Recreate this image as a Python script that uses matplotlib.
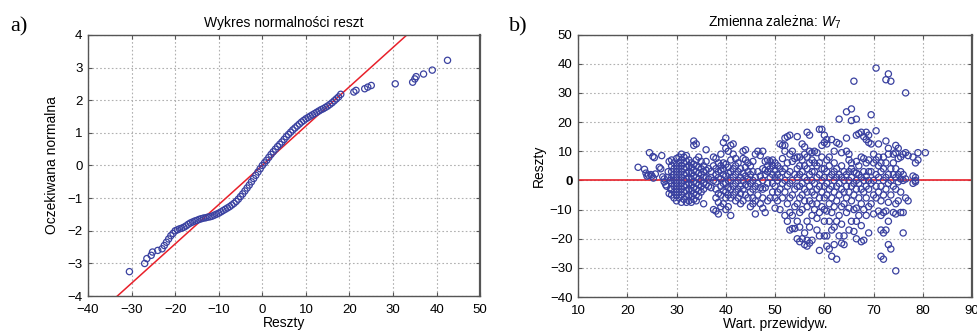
import numpy as np
import matplotlib
matplotlib.use('Agg')
from matplotlib import pyplot as plt

plt.rcParams['font.family'] = ['Liberation Sans', 'DejaVu Sans']
plt.rcParams['mathtext.fontset'] = 'custom'
plt.rcParams['mathtext.it'] = 'Liberation Sans:italic'
plt.rcParams['mathtext.rm'] = 'Liberation Sans'

# a) normal probability plot: residual vs expected normal value
res_a = [-30.5, -27, -26.5, -25.5, -25.2, -24, -23, -22.5, -22, -21.5, -21, -20.5,
         -20, -19.5, -19, -18.5, -18, -17.5, -17, -16.5, -16, -15.5, -15, -14.5,
         -14, -13.5, -13, -12.5, -12, -11.5, -11, -10.5, -10, -9.5, -9, -8.5, -8,
         -7.5, -7, -6.5, -6, -5.5, -5, -4.5, -4, -3.5, -3, -2.5, -2, -1.5, -1, -0.5,
         0, 0.5, 1, 1.5, 2, 2.5, 3, 3.5, 4, 4.5, 5, 5.5, 6, 6.5, 7, 7.5, 8, 8.5, 9,
         9.5, 10, 10.5, 11, 11.5, 12, 12.5, 13, 13.5, 14, 14.5, 15, 15.5, 16, 16.5,
         17, 17.5, 18,
         21, 21.5, 23.5, 24.2, 25, 30.5, 34.5, 35, 35.3, 37, 39, 42.5]
exp_a = [-3.25, -3.0, -2.85, -2.75, -2.65, -2.6, -2.55, -2.45, -2.35, -2.25, -2.15, -2.08,
         -2.0, -1.97, -1.94, -1.92, -1.89, -1.85, -1.8, -1.76, -1.73, -1.70, -1.68, -1.65,
         -1.63, -1.61, -1.60, -1.58, -1.57, -1.55, -1.52, -1.49, -1.46, -1.42, -1.38, -1.34, -1.30,
         -1.26, -1.21, -1.16, -1.10, -1.03, -0.95, -0.87, -0.78, -0.69, -0.60, -0.50, -0.40, -0.30, -0.20, -0.10,
         0.0, 0.08, 0.16, 0.25, 0.34, 0.42, 0.50, 0.58, 0.65, 0.72, 0.80, 0.88, 0.95, 1.02, 1.09,
         1.15, 1.21, 1.27, 1.33, 1.38, 1.43, 1.47, 1.51, 1.55, 1.59, 1.63, 1.67, 1.71, 1.74, 1.78,
         1.82, 1.87, 1.92, 1.98, 2.04, 2.10, 2.18,
         2.25, 2.3, 2.35, 2.4, 2.45, 2.5, 2.55, 2.65, 2.72, 2.8, 2.92, 3.22]
line_x = [-33.3, 33.2]
line_y = [-4, 4]

# b) residuals vs predicted values (columns: predicted -> list of residuals)
cols_b = {
    22.2: [4.5], 23.5: [3.8], 23.8: [2.5], 24: [1.5], 24.3: [1.8], 24.5: [9.5],
    24.8: [2], 25: [1.5], 25.2: [8.2], 25.3: [0.8], 25.5: [7.8], 25.7: [2.2],
    26.5: [4.5], 26.8: [4], 27: [8.5], 27.2: [1.2], 27.5: [-0.5, 0.5], 27.8: [-1.5],
    28: [-2], 28.2: [1], 28.3: [3], 28.5: [6.5, -4.5], 28.7: [0], 28.8: [-3],
    29: [-5, -3, -1, 1, 3, 5, 7],
    29.5: [-6, -4, -2, 0, 2, 4, 6],
    30: [-7, -5, -3, -1, 1, 3, 5, 7.5],
    30.5: [-6, -4, -2, 0, 2, 4, 6, 8],
    31: [-7.5, -5, -3, -1, 1, 3, 5, 7, 9],
    31.5: [-6.5, -4, -2, 0, 2, 4, 6, 8],
    32: [-7.5, -5.5, -3.5, -1.5, 0.5, 2.5, 4.5, 6.5, 8.5],
    32.5: [-7, -5, -3, -1, 1, 3, 5, 7],
    33: [-7.5, -5.5, -3.5, -1.5, 0.5, 2.5, 4.5, 6],
    33.5: [-6.5, -4.5, -2.5, -0.5, 1.5, 3.5, 5.5, 12, 13.5],
    34: [-7, -5, -3, -1, 1, 3, 5, 7, 12.5],
    34.5: [-5.5, -3.5, -1.5, 0.5, 2.5, 4.5, 8],
    35: [-4, -2, 0, 2, 4, 6.5],
    35.5: [-8, -3, -1, 1, 3, 5],
    36: [-1.5, 1, 3.5, 6.5, 10.5],
    36.5: [-2, 0.5, 4],
    37: [-2.5, 1, 3],
    37.5: [-10, 0, 5, 8],
    38: [-10.5, -6, -3, -0.5, 2, 4, 7.5],
    38.5: [-11.5, -7.5, -4.5, 1, 3, 6],
    39: [-9, -5, -2, 0.5, 3.5, 5, 9],
    39.5: [-8, -3.5, -1, 2, 4, 6, 13],
    40: [-10, -6, -4, -1, 1.5, 5.5, 11, 14.5],
    40.5: [-9, -5, -2.5, 0, 2.5, 4.5, 10],
    41: [-12, -6, -3, 0, 3, 7, 12],
    41.5: [-5, -2, 1, 4, 9, 12.5],
    42: [-7, -4, -1, 2, 5, 7.5],
    42.5: [-6, -3, 0, 3, 6],
    43: [-8, -4.5, -2, 1, 4],
    43.5: [-7, -3, 0, 2.5, 7.5, 10],
    44: [-5, -1.5, 1.5, 4.5, 7, 10.5],
    44.5: [-6, -2, 0.5, 3, 6],
    45: [-9, -4, -1, 2, 5],
    45.5: [-8, -6, -3, 0, 3, 6.5],
    46: [-11.5, -7, -2, 1, 9],
    46.5: [-5, -1, 3, 10],
    47: [-8, -2.5, 1.5, 8.5],
    47.5: [-9.5, -6, -3, 0, 4, 10],
    48: [-11, -2.5, 2, 3.5, 6.5],
    48.5: [-7, -1, 3, 5, 7],
    49: [-6, 1, 4, 6.5],
    49.5: [-4, -1, 2, 5, 7],
    50: [-9.5, -6, -2, 1, 3.5, 6],
    50.5: [-7, -4, 0, 2, 5],
    51: [-10, -3, 1, 4, 12.5],
    51.5: [-6, -1, 3, 7.5, 12],
    52: [-12, -4, 0, 4, 10, 12, 14.5],
    52.5: [-14, -8, -2, 2, 6, 15],
    53: [-17, -11, -6, -1, 3, 9, 15.5],
    53.5: [-16.5, -12, -5, 0, 6.5, 10],
    54: [-16.5, -9, -3, 2, 7.5],
    54.5: [-20, -14, -8, -2, 1, 4, 8, 15],
    55: [-21, -16, -11, -6, -2, 2, 5, 8],
    55.5: [-20, -10, -5, -1, 3, 7, 12.5],
    56: [-22, -18, -7, -3, 1, 5, 9, 11.5],
    56.5: [-22.5, -20.5, -14, -9, -4, 0, 4, 8, 16.5],
    57: [-21.5, -16, -7, -2, 2, 6, 10, 15.5],
    57.5: [-20.5, -12, -8, -4, 0, 3, 7, 9.5],
    58: [-10, -5, -1, 3, 6, 10],
    58.5: [-17, -13, -8, -3, 1, 5, 9.5],
    59: [-24, -19, -11, -6, -2, 2, 6, 17.5],
    59.5: [-9, -4, 0, 4, 8, 12, 17.5],
    60: [-19, -14, -10, -6, -2, 1, 4, 13, 15.5],
    60.5: [-22.5, -19, -10.5, -5, -1, 3, 7, 12.5, 14],
    61: [-23.5, -14, -8, -3, 1, 5, 8],
    61.5: [-26, -17, -11, -6, -2, 2, 14],
    62: [-22, -16, -9, -4, 0, 3, 6, 10],
    62.5: [-27, -14, -7, -2, 1, 4, 13],
    63: [-19, -12, -5, -1, 2, 12.5, 21],
    63.5: [-21.5, -15, -9, -3, 1, 5, 9.5],
    64: [-22, -19, -8, -4, 0, 3],
    64.5: [-11, -6, -2, 2, 10, 14.5, 23.5],
    65: [-17, -9.5, -4, 0, 3, 7, 9],
    65.5: [-14, -7, -2, 1, 4, 6, 20.5, 24.5],
    66: [-17.5, -10, -5, -1, 3, 34],
    66.5: [-20, -14, -9.5, -3, 0, 2.5, 6.5, 15.5, 21],
    67: [-12, -6, -1, 2, 5, 16],
    67.5: [-21, -15.5, -8, -3, 1, 8, 16.5],
    68: [-20.5, -10, -4, 0, 3, 7.5, 15],
    68.5: [-12, -6, -2, 1.5, 6, 14, 16.5],
    69: [-18, -9, -3, 0, 3, 7, 13, 15.5],
    69.5: [-8, -1, 3, 12.5, 22.5],
    70: [-11.5, -5, 0, 6, 9],
    70.5: [-6, -2, 2, 7, 17, 38.5],
    71: [-10.5, -4, 1, 5, 8, 12.5],
    71.5: [-26, -17, -12, -7, -2, 3, 6],
    72: [-27, -18, -11, -5, 0, 4, 8],
    72.5: [-17, -10.5, -3, 1, 6, 13.5, 34.5],
    73: [-22, -14, -7.5, -1, 2, 9, 11, 36.5],
    73.5: [-23.5, -5, 0, 4, 34],
    74: [-11, -2, 2, 6, 9],
    74.5: [-31, -11.5, -8, -3, 1, 4, 9.5, 12],
    75: [-7, -0.5, 2, 7.5, 11],
    75.5: [-11, -4, 0.5, 3, 8],
    76: [-18, -11, 0, 2, 9],
    76.5: [-6, 0.5, 9.5, 30],
    77: [-7, 8.5],
    78: [-1, 1.5, 8],
    78.5: [-0.5, 0, 1, 6],
    79: [7, 9.5],
    80.5: [9.5],
}
pred_b = [x for x, ys in cols_b.items() for _ in ys]
res_b = [y for ys in cols_b.values() for y in ys]

blue = '#3a41a0'
red = '#e8202a'

fig = plt.figure(figsize=(9.78, 3.35), dpi=100)
ax1 = fig.add_axes([0.090, 0.116, 0.401, 0.780])
ax2 = fig.add_axes([0.591, 0.113, 0.403, 0.784])

for ax in (ax1, ax2):
    ax.grid(True, linestyle=(0, (1.5, 2)), color='#b0b0b0', linewidth=0.8)
    ax.set_axisbelow(True)
    ax.tick_params(direction='in', top=True, right=True, length=3, labelsize=9.5,
                   color='#555555')
    ax.tick_params(axis='x', pad=6)
    ax.tick_params(axis='y', pad=4)
    for s in ax.spines.values():
        s.set_color('#555555')
        s.set_linewidth(1.0)
    ax.spines['right'].set_linewidth(1.6)

# a)
ax1.plot(line_x, line_y, color=red, lw=1.1, zorder=2)
ax1.scatter(res_a, exp_a, s=20, facecolors='none', edgecolors=blue, linewidths=0.9, zorder=3)
ax1.set_xlim(-40, 50)
ax1.set_ylim(-4, 4)
ax1.set_xticks(range(-40, 51, 10))
ax1.set_yticks(range(-4, 5, 1))
ax1.set_title('Wykres normalności reszt', fontsize=10, pad=6)
ax1.set_xlabel('Reszty', fontsize=10, labelpad=0)
ax1.set_ylabel('Oczekiwana normalna', fontsize=10, labelpad=6)

# b)
ax2.axhline(0, color=red, lw=1.2, zorder=2)
ax2.scatter(pred_b, res_b, s=20, facecolors='none', edgecolors=blue, linewidths=0.9, zorder=3)
ax2.set_xlim(10, 90)
ax2.set_ylim(-40, 50)
ax2.set_xticks(range(10, 91, 10))
ax2.set_yticks(range(-40, 51, 10))
for lab in ax2.get_yticklabels():
    if lab.get_text() in ('0',):
        lab.set_fontweight('bold')
ax2.set_title(r'Zmienna zależna: $W_7$', fontsize=10, pad=6)
ax2.set_xlabel('Wart. przewidyw.', fontsize=10, labelpad=0)
ax2.set_ylabel('Reszty', fontsize=10, labelpad=3)

fig.text(0.010, 0.905, 'a)', fontsize=16, family='Liberation Serif')
fig.text(0.520, 0.905, 'b)', fontsize=16, family='Liberation Serif')

fig.savefig('out.png', dpi=100)
